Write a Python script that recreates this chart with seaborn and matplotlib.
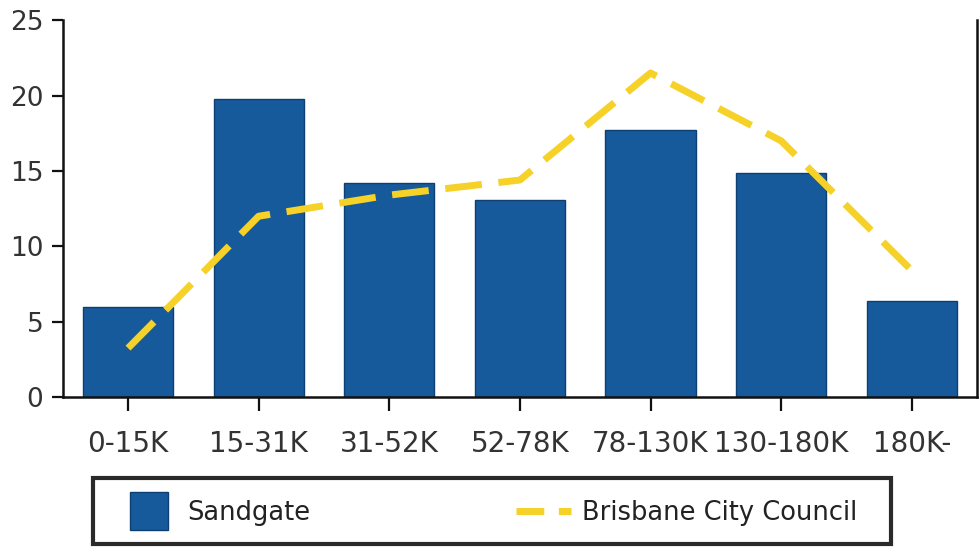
import numpy as np
import pandas as pd
import matplotlib
matplotlib.use("Agg")
import matplotlib.pyplot as plt
import seaborn as sns
from matplotlib.lines import Line2D
from matplotlib.patches import Rectangle

# data
income_bands = ["0-15K", "15-31K", "31-52K", "52-78K", "78-130K", "130-180K", "180K-"]
sandgate = [5.95, 19.8, 14.2, 13.05, 17.7, 14.85, 6.35]
brisbane = [3.25, 12.0, 13.4, 14.4, 21.5, 17.0, 8.4]

bar_color = "#165a9c"
line_color = "#f6d128"

sns.set_style("ticks")
plt.rcParams['font.family'] = ['DejaVu Sans']

fig = plt.figure(figsize=(9.8, 5.47), dpi=100)
ax = fig.add_axes([0.064, 0.274, 0.933, 0.689])

df = pd.DataFrame({"band": income_bands, "Sandgate": sandgate, "Brisbane": brisbane})

sns.barplot(data=df, x="band", y="Sandgate", color=bar_color, width=0.69,
            saturation=1, edgecolor="#0e3f72", linewidth=1, ax=ax)
sns.lineplot(data=df, x="band", y="Brisbane", sort=False, color=line_color,
             linewidth=5, ax=ax)
ax.lines[-1].set_dashes((5.3, 2.4))

ax.set_xlim(-0.5, 6.5)
ax.set_ylim(0, 25)
ax.set_yticks([0, 5, 10, 15, 20, 25])
ax.set_xlabel("")
ax.set_ylabel("")

for side in ["left", "bottom", "right"]:
    ax.spines[side].set_visible(True)
    ax.spines[side].set_color("#111111")
    ax.spines[side].set_linewidth(1.8)
ax.spines["top"].set_visible(False)

ax.tick_params(axis="y", length=8, width=1.6, color="#111111", labelsize=19,
               labelcolor="#333333", pad=6, right=False)
ax.tick_params(axis="x", length=10, width=1.6, color="#111111", labelsize=20,
               labelcolor="#333333", pad=14)

# legend box drawn separately so it can sit off-centre like the original
fig.patches.append(Rectangle((0.0949, 0.0055), 0.8143, 0.1207,
                             transform=fig.transFigure, facecolor="white",
                             edgecolor="#2a2a2a", linewidth=3, zorder=0))

handles = [
    Line2D([], [], marker="s", markersize=28, linestyle="none",
           markerfacecolor=bar_color, markeredgecolor="#0e3f72"),
    Line2D([], [], color=line_color, linewidth=5, dashes=(4, 2.1)),
]
leg = fig.legend(handles, ["Sandgate", "Brisbane City Council"],
                 loc="center left", bbox_to_anchor=(0.1235, 0.062),
                 ncol=2, fontsize=18.5, handlelength=2.14,
                 handletextpad=0.43, columnspacing=8.0, frameon=False,
                 borderpad=0, borderaxespad=0, labelcolor="#222222")

fig.savefig("out.png", dpi=100)
